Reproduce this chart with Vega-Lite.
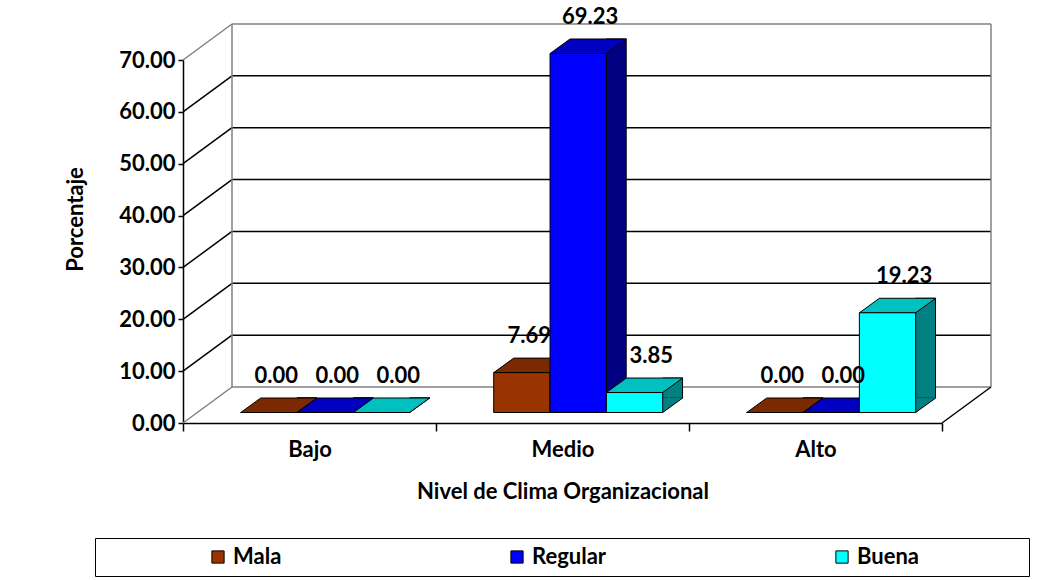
{
  "$schema": "https://vega.github.io/schema/vega-lite/v6.json",
  "width": 759,
  "height": 363,
  "autosize": {"type": "none"},
  "padding": {"left": 183, "top": 60, "right": 118, "bottom": 157},
  "background": "white",
  "config": {
    "view": {"stroke": null},
    "font": "Lato",
    "axis": {
      "domainColor": "black", "tickColor": "black", "labelColor": "black", "titleColor": "black",
      "labelFont": "Lato", "titleFont": "Lato", "labelFontSize": 22, "titleFontSize": 22,
      "labelFontWeight": "bold", "titleFontWeight": "bold", "domainWidth": 1.5, "tickWidth": 1.5, "grid": false
    },
    "axisY": {"format": ".2f", "tickSize": 5, "labelPadding": 3, "titlePadding": 30}
  },
  "datasets": {
    "grid": [{"v": 0}, {"v": 10}, {"v": 20}, {"v": 30}, {"v": 40}, {"v": 50}, {"v": 60}, {"v": 70}],
    "bars": [
      {"nivel": "Bajo", "serie": "Mala", "valor": 0},
      {"nivel": "Bajo", "serie": "Regular", "valor": 0},
      {"nivel": "Bajo", "serie": "Buena", "valor": 0},
      {"nivel": "Medio", "serie": "Mala", "valor": 7.69},
      {"nivel": "Medio", "serie": "Regular", "valor": 69.23},
      {"nivel": "Medio", "serie": "Buena", "valor": 3.85},
      {"nivel": "Alto", "serie": "Mala", "valor": 0},
      {"nivel": "Alto", "serie": "Regular", "valor": 0},
      {"nivel": "Alto", "serie": "Buena", "valor": 19.23}
    ]
  },
  "layer": [
    {
      "data": {"name": "grid"},
      "layer": [
        {
          "transform": [{"filter": "datum.v > 0 && datum.v < 70"}],
          "mark": {"type": "rule", "color": "black", "strokeWidth": 1.5, "xOffset": 49, "x2Offset": 49, "yOffset": -36},
          "encoding": {
            "x": {"datum": 0, "type": "quantitative", "scale": {"domain": [0, 3], "nice": false, "zero": false},
              "axis": {
                "values": [0, 0.5, 1, 1.5, 2, 2.5, 3],
                "labelExpr": "datum.value == 0.5 ? 'Bajo' : datum.value == 1.5 ? 'Medio' : datum.value == 2.5 ? 'Alto' : ''",
                "tickOpacity": {"condition": {"test": "datum.value % 1 != 0", "value": 0}, "value": 1},
                "tickSize": 8, "labelPadding": 8, "labelFlush": false, "labelOverlap": false,
                "title": "Nivel de Clima Organizacional", "titlePadding": 21
              }},
            "x2": {"datum": 3},
            "y": {"field": "v", "type": "quantitative", "title": "Porcentaje", "scale": {"domain": [0, 70], "nice": false},
              "axis": {"values": [0, 10, 20, 30, 40, 50, 60, 70], "format": ".2f", "title": "Porcentaje", "titleX": -96, "titleY": 159}}
          }
        },
        {
          "transform": [{"filter": "datum.v == 0 || datum.v == 70"}],
          "mark": {"type": "rule", "color": "#808080", "strokeWidth": 1.5, "xOffset": 49, "x2Offset": 49, "yOffset": -36},
          "encoding": {
            "x": {"datum": 0, "type": "quantitative"},
            "x2": {"datum": 3},
            "y": {"field": "v", "type": "quantitative", "title": "Porcentaje"}
          }
        },
        {
          "transform": [{"filter": "datum.v > 0 && datum.v < 70"}],
          "mark": {"type": "rule", "color": "black", "strokeWidth": 1.5, "x2Offset": 49, "y2Offset": -36},
          "encoding": {
            "x": {"datum": 0, "type": "quantitative"},
            "x2": {"datum": 0},
            "y": {"field": "v", "type": "quantitative", "title": "Porcentaje"},
            "y2": {"field": "v"}
          }
        },
        {
          "transform": [{"filter": "datum.v == 0 || datum.v == 70"}],
          "mark": {"type": "rule", "color": "#808080", "strokeWidth": 1.5, "x2Offset": 49, "y2Offset": -36},
          "encoding": {
            "x": {"datum": 0, "type": "quantitative"},
            "x2": {"datum": 0},
            "y": {"field": "v", "type": "quantitative", "title": "Porcentaje"},
            "y2": {"field": "v"}
          }
        },
        {
          "data": {"values": [{}]},
          "mark": {"type": "rule", "color": "#808080", "strokeWidth": 1.5, "xOffset": 49, "yOffset": -36, "y2Offset": -36},
          "encoding": {
            "x": {"datum": 0, "type": "quantitative"},
            "y": {"datum": 0, "type": "quantitative", "title": "Porcentaje"},
            "y2": {"datum": 70}
          }
        },
        {
          "data": {"values": [{}]},
          "mark": {"type": "rule", "color": "#808080", "strokeWidth": 1.5, "xOffset": 49, "yOffset": -36, "y2Offset": -36},
          "encoding": {
            "x": {"datum": 3, "type": "quantitative"},
            "y": {"datum": 0, "type": "quantitative", "title": "Porcentaje"},
            "y2": {"datum": 70}
          }
        },
        {
          "data": {"values": [{}]},
          "mark": {"type": "rule", "color": "black", "strokeWidth": 1.5, "x2Offset": 49, "y2Offset": -36},
          "encoding": {
            "x": {"datum": 3, "type": "quantitative"},
            "x2": {"datum": 3},
            "y": {"datum": 0, "type": "quantitative", "title": "Porcentaje"},
            "y2": {"datum": 0}
          }
        }
      ]
    },
    {
      "data": {"name": "bars"},
      "encoding": {
        "x": {"field": "nivel", "type": "nominal", "sort": ["Bajo", "Medio", "Alto"],
          "scale": {"paddingInner": 0.332, "paddingOuter": 0.166, "align": 0.687}, "axis": null}
      },
      "layer": [
        {
          "mark": {"type": "bar", "width": 20, "yOffset": -25, "y2Offset": -25, "stroke": "black", "strokeWidth": 1},
          "encoding": {
            "xOffset": {"field": "serie", "type": "nominal", "sort": ["Mala", "Regular", "Buena"],
              "scale": {"paddingInner": 0, "paddingOuter": 0, "range": [38, 207]}},
            "y": {"field": "valor", "type": "quantitative", "title": "Porcentaje"},
            "y2": {"datum": 0},
            "color": {"field": "serie", "type": "nominal", "scale": {"domain": ["Mala", "Regular", "Buena"], "range": ["#4d1a00", "#000080", "#008080"]}, "legend": null}
          }
        },
        {
          "layer": [
            {
              "mark": {"type": "point", "filled": true, "opacity": 1, "strokeWidth": 0, "size": 10000, "yOffset": -10.5,
                "shape": "M0.563,-0.3 L0.963,-0.3 L0.963,-0.29 L0.563,0 Z"},
              "encoding": {
                "y": {"datum": 0, "type": "quantitative", "title": "Porcentaje"},
                "color": {"field": "serie", "type": "nominal", "scale": {"domain": ["Mala", "Regular", "Buena"], "range": ["#4d1a00", "#000080", "#008080"]}, "legend": null}
              }
            },
            {
              "mark": {"type": "point", "filled": false, "opacity": 1, "stroke": "black", "strokeWidth": 1, "size": 10000, "yOffset": -10.5,
                "shape": "M0.563,0 L0.963,-0.29"},
              "encoding": {
                "y": {"datum": 0, "type": "quantitative", "title": "Porcentaje"}
              }
            },
            {
              "mark": {"type": "point", "filled": true, "opacity": 1, "stroke": "black", "strokeWidth": 1, "size": 10000, "yOffset": -10.5,
                "shape": "M-0.563,0 L0.563,0 L0.963,-0.29 L-0.163,-0.29 Z"},
              "encoding": {
                "y": {"field": "valor", "type": "quantitative", "title": "Porcentaje"},
                "color": {"field": "serie", "type": "nominal", "scale": {"domain": ["Mala", "Regular", "Buena"], "range": ["#7a2900", "#0000c0", "#00c0c0"]}, "legend": null}
              }
            },
            {
              "mark": {"type": "bar", "yOffset": -10.5, "y2Offset": -10.5, "stroke": "black", "strokeWidth": 1},
              "encoding": {
                "y": {"field": "valor", "type": "quantitative", "title": "Porcentaje"},
                "y2": {"datum": 0},
                "color": {"field": "serie", "type": "nominal", "scale": {"domain": ["Mala", "Regular", "Buena"], "range": ["#993300", "#0000ff", "#00ffff"]},
                  "legend": {
                    "orient": "none", "legendX": -88, "legendY": 478, "direction": "horizontal", "columns": 3, "title": null,
                    "symbolType": "square", "symbolSize": 150, "symbolStrokeColor": "black", "symbolStrokeWidth": 1,
                    "labelFont": "Lato", "labelFontSize": 22, "labelFontWeight": "bold", "labelColor": "black", "labelLimit": 400,
                    "strokeColor": "black", "padding": 8, "symbolOffset": 104, "columnPadding": 120,
                    "labelExpr": "datum.label == 'Buena' ? 'Buena\u00a0\u00a0\u00a0\u00a0\u00a0\u00a0\u00a0\u00a0\u00a0\u00a0\u00a0\u00a0\u00a0\u00a0\u00a0\u00a0\u00a0\u00a0\u00a0\u200b' : datum.label"
                  }}
              }
            }
          ],
          "encoding": {
            "xOffset": {"field": "serie", "type": "nominal", "sort": ["Mala", "Regular", "Buena"],
              "scale": {"paddingInner": 0, "paddingOuter": 0}}
          },
          "resolve": {"scale": {"color": "independent"}}
        },
        {
          "mark": {"type": "text", "font": "Lato", "fontSize": 22, "fontWeight": "bold", "color": "black", "baseline": "alphabetic", "dy": -40},
          "encoding": {
            "xOffset": {"field": "serie", "type": "nominal", "sort": ["Mala", "Regular", "Buena"],
              "scale": {"type": "point", "padding": 0, "range": [35.5, 157.5]}},
            "y": {"field": "valor", "type": "quantitative", "title": "Porcentaje"},
            "text": {"field": "valor", "type": "quantitative", "format": ".2f"}
          }
        }
      ],
      "resolve": {"scale": {"color": "independent", "xOffset": "independent"}}
    }
  ],
  "resolve": {"scale": {"x": "independent", "color": "independent"}, "axis": {"x": "independent"}}
}
